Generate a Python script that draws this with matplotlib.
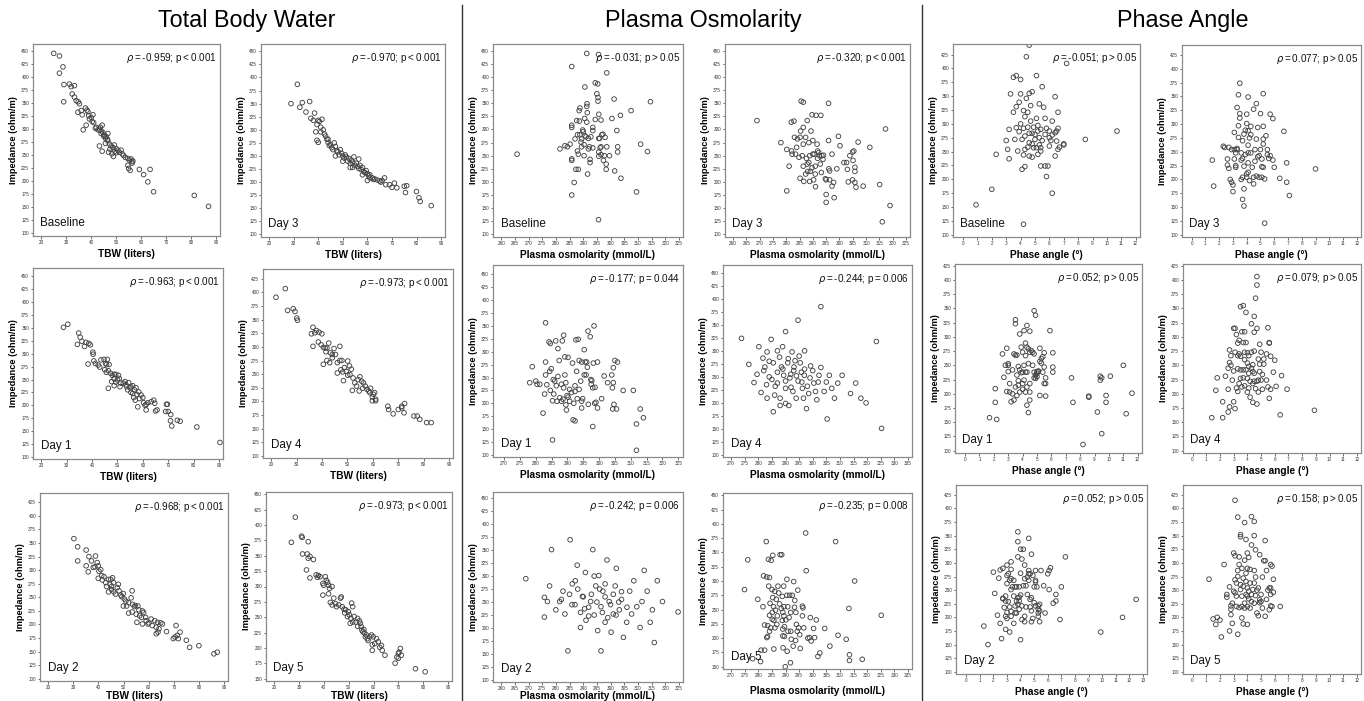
import numpy as np
import matplotlib
matplotlib.use('Agg')
import matplotlib.pyplot as plt

# ====== Data (TBW / Plasma osmolarity / Phase angle vs impedance) ======
tbw_baseline = [(25, 446), (27.3, 441), (27.3, 408), (28.7, 420), (29.1, 386), (29, 353), (31.3, 387), (32, 382),
                (33.3, 384), (32.4, 368), (33.3, 362), (34, 355), (34.8, 353), (35.3, 349), (34.7, 333), (36, 336),
                (36.4, 328), (36.8, 299), (37.7, 341), (38.3, 337), (38.7, 334), (39, 326), (39.3, 320), (38, 308),
                (40, 323), (40.7, 328), (40.4, 315), (41, 313), (41.7, 302), (43.3, 300), (44, 297), (44.4, 308),
                (44.7, 294), (45.3, 289), (46, 286), (46.7, 292), (44, 292), (45, 287), (45.7, 283), (43.3, 268),
                (44.4, 258), (45.7, 273), (46.7, 278), (47.3, 272), (48, 268), (48.7, 265), (49.3, 270), (50, 263),
                (47, 256), (48.3, 253), (48.9, 248), (50, 255), (50.7, 260), (51.3, 256), (52, 260), (52.4, 253),
                (52.9, 250), (53.7, 246), (54.7, 244), (55.3, 241), (56, 243), (56.3, 238), (54.7, 231), (55, 225),
                (55.6, 221), (56.4, 235), (56.7, 239), (59.3, 223), (61, 213), (62.7, 199), (63.6, 223), (65, 180),
                (81.3, 173), (87, 152), (42.7, 299), (42, 304), (43.7, 304), (46.5, 281), (47.5, 262), (49.5, 258)]
tbw_day3 = [(28.9, 350), (31.5, 387), (32.5, 343), (33.5, 352), (35, 334), (36.5, 354), (37, 322), (38, 318),
            (38.5, 332), (39, 296), (39.5, 310), (40, 318), (40.5, 316), (41, 305), (41.5, 320), (39.5, 280),
            (40, 276), (41, 296), (42, 300), (42.5, 292), (43, 288), (43.5, 282), (44, 276), (44.5, 270), (45, 272),
            (45.5, 266), (46, 262), (46.5, 275), (47, 268), (47.5, 260), (48, 258), (48.5, 252), (49, 262),
            (49.5, 255), (50, 250), (50.5, 246), (51, 252), (51.5, 248), (52, 240), (52.5, 245), (53, 236),
            (53.5, 242), (54, 238), (54.5, 248), (55, 232), (55.5, 236), (56, 230), (56.5, 226), (57, 232),
            (57.5, 224), (58, 228), (58.5, 220), (59, 218), (59.5, 222), (60, 216), (60.5, 212), (61, 214),
            (62, 208), (62.5, 205), (63, 206), (64, 204), (65, 202), (65.5, 200), (66, 203), (67, 208), (67.5, 195),
            (69, 195), (70, 190), (71, 198), (72, 189), (75, 192), (75.5, 180), (76, 193), (80, 182), (81, 170),
            (81.5, 163), (86, 155), (56.5, 244), (54, 228), (60, 203), (61, 208), (58, 214), (50, 240), (44, 282),
            (47, 250), (53, 228)]
tbw_day1 = [(28.7, 351), (30.4, 357), (34.7, 340), (35.3, 332), (34.2, 318), (36, 324), (37.6, 322), (37, 314),
            (38.7, 320), (39.3, 317), (40.3, 303), (40.4, 299), (38.4, 280), (40.7, 286), (41.3, 281), (42.4, 278),
            (43, 274), (43.5, 288), (44.7, 289), (45.3, 281), (46, 289), (45.7, 279), (46.7, 279), (45, 269),
            (45.6, 264), (46.4, 267), (47.3, 262), (48, 258), (48.7, 260), (46.4, 233), (47.7, 246), (48.7, 251),
            (49.3, 245), (48.7, 238), (50, 249), (50.7, 252), (51.3, 243), (51, 236), (52.3, 243), (53, 246),
            (53.6, 236), (54.4, 244), (54, 230), (55, 234), (55.3, 225), (56, 238), (56.7, 230), (57.3, 234),
            (57.6, 221), (58.4, 226), (56.4, 215), (57, 210), (58, 197), (58.7, 213), (60, 215), (60.3, 205),
            (60.9, 200), (61.3, 202), (62, 205), (61.3, 191), (63.3, 207), (64.3, 210), (64.7, 204), (65, 189),
            (65.6, 191), (69.3, 202), (69.7, 202), (69, 188), (70, 188), (71, 182), (70.9, 170), (71.4, 160),
            (73.6, 171), (74.7, 169), (81.3, 158), (90.4, 128), (49.3, 260), (50.4, 258), (53.3, 240), (55.3, 236),
            (56, 223), (59.3, 220)]
tbw_day4 = [(21.8, 391), (25.5, 407), (26.4, 367), (28.6, 370), (29.3, 365), (30, 353), (30.3, 349), (36.4, 336),
            (35.8, 324), (37.1, 326), (37.8, 330), (38.8, 327), (39.9, 324), (36.4, 301), (38.5, 309), (39.6, 304),
            (40.5, 299), (41.2, 298), (41.9, 298), (41.5, 291), (42.6, 307), (43.3, 289), (44, 286), (44.7, 297),
            (40.5, 268), (41.9, 275), (43, 271), (44, 280), (45.3, 286), (46, 271), (47, 275), (47, 301),
            (47.8, 275), (46, 252), (47.4, 258), (48.1, 254), (48.8, 262), (49.5, 255), (48.4, 238), (50.1, 274),
            (50.8, 265), (50.1, 248), (51, 249), (51.5, 259), (52.2, 243), (51.9, 220), (52.9, 234), (53.6, 228),
            (54.2, 240), (54.9, 245), (55.6, 237), (56.3, 234), (54.6, 219), (56, 224), (57, 228), (57.7, 222),
            (58.4, 219), (58.8, 216), (59.1, 224), (59.8, 208), (60.2, 213), (60.7, 216), (61.1, 204), (61.1, 201),
            (59.8, 201), (65.9, 191), (66.2, 185), (68, 177), (70, 185), (71.4, 188), (72.5, 196), (72.3, 179),
            (76.2, 173), (77.5, 173), (78.5, 167), (81.2, 161), (83, 161), (71.4, 191)]
tbw_day2 = [(30.2, 358), (31.7, 343), (31.7, 317), (35.1, 337), (35.1, 308), (35.9, 297), (36.2, 325), (37.2, 317),
            (37.9, 305), (38.8, 326), (38.6, 306), (39.5, 314), (39.9, 308), (40.2, 298), (39.9, 285), (40.9, 301),
            (41.3, 290), (41.5, 282), (42.2, 288), (42.9, 277), (43.2, 270), (44, 283), (44.6, 274), (44.9, 283),
            (45.2, 270), (45.6, 286), (46, 277), (44, 260), (45.2, 264), (46.1, 260), (46.8, 256), (47.5, 268),
            (47.9, 274), (48.2, 262), (48.9, 254), (49.3, 251), (49.9, 257), (50.3, 247), (50.9, 243), (49.9, 234),
            (51.2, 234), (52, 240), (53.4, 262), (53, 249), (53.6, 237), (54.3, 233), (54.7, 235), (52, 221),
            (53.4, 223), (55, 219), (55.7, 234), (56.1, 227), (55.3, 204), (56.4, 216), (57.1, 213), (57.5, 225),
            (58, 222), (58.8, 213), (57.5, 201), (59, 207), (59.7, 201), (60.1, 203), (61, 210), (61.4, 198),
            (62.4, 207), (63, 195), (63.5, 204), (64.1, 192), (64.8, 203), (65.5, 201), (63, 183), (63.7, 186),
            (67.1, 187), (70.9, 198), (69.8, 174), (70.5, 177), (71.4, 180), (71.8, 174), (72.5, 186), (75, 171),
            (76.3, 158), (80, 161), (86, 146), (87.3, 149)]
tbw_day5 = [(28.5, 413), (26.9, 372), (31, 382), (31.3, 380), (31.4, 353), (33.7, 373), (33.3, 353), (34.4, 349),
            (33.7, 346), (35.8, 344), (33, 327), (34.4, 314), (36.9, 319), (37.8, 318), (38.5, 316), (37.4, 315),
            (39.6, 305), (39.9, 302), (40.6, 316), (41, 310), (41.5, 307), (41.9, 302), (42.3, 297), (39.6, 286),
            (43.3, 300), (41.9, 288), (42.6, 274), (44, 281), (43.3, 270), (44.7, 272), (45.1, 267), (46, 270),
            (46.7, 281), (47, 283), (47.4, 267), (48.1, 263), (48.4, 257), (48.8, 262), (49.5, 251), (49.8, 259),
            (50.2, 254), (50.9, 248), (51.2, 273), (51.6, 267), (50.6, 240), (51.6, 242), (52.2, 251), (52.9, 242),
            (53.6, 248), (54.3, 244), (54.7, 240), (53.6, 235), (55, 235), (55.3, 229), (55.7, 226), (56.1, 230),
            (56.4, 224), (56.7, 218), (57.1, 221), (57.5, 215), (57.8, 212), (58.5, 218), (59.2, 221), (59.9, 218),
            (59.5, 205), (59.5, 196), (60.5, 207), (61.2, 215), (61.9, 210), (62.5, 201), (63.2, 204), (63.5, 196),
            (64.6, 188), (68.7, 175), (69.4, 185), (70, 191), (70.3, 193), (70.8, 199), (71.2, 188), (70, 183),
            (76.9, 166), (80.8, 161)]

osm_baseline = [(265.8, 253), (281.5, 263), (283.3, 269), (284.2, 267), (285.2, 272), (285.8, 304), (285.8, 308),
                (285.8, 244), (285.8, 241), (285.8, 175), (285.8, 420), (286.7, 199), (287, 282), (287.3, 224),
                (287.6, 317), (287.9, 259), (287.9, 290), (288.2, 224), (288.2, 253), (288.5, 336), (288.6, 316),
                (288.8, 341), (288.8, 290), (289.2, 276), (289.4, 282), (289.4, 267), (289.8, 299), (290, 296),
                (290.3, 250), (290.3, 271), (290.5, 321), (290.6, 381), (290.6, 288), (291, 286), (291.3, 344),
                (291.3, 314), (291.4, 349), (291.5, 332), (291.6, 215), (291.9, 283), (291.9, 263), (292.3, 267),
                (292.5, 237), (292.5, 243), (292.8, 286), (293.5, 304), (293.5, 298), (293.5, 265), (294.4, 319),
                (294.4, 389), (295, 368), (295.3, 387), (295.4, 361), (295.4, 354), (295.7, 329), (295.7, 283),
                (295.7, 257), (295.7, 249), (296, 283), (296.2, 265), (296.5, 318), (296.5, 267), (296.5, 252),
                (296.8, 290), (297.2, 291), (297.4, 241), (297.7, 250), (298, 285), (298.4, 224), (298.4, 234),
                (298.6, 408), (298.6, 267), (299.6, 250), (300.5, 321), (301.3, 358), (301.5, 221), (302.3, 298),
                (302.6, 267), (302.6, 257), (303.6, 327), (303.8, 207), (307.5, 336), (309.5, 181), (311, 272),
                (313.5, 258), (314.6, 353), (295.6, 128), (291.3, 445), (295.6, 443)]
osm_day3 = [(269, 317), (278, 275), (280.2, 262), (281.1, 230), (280.2, 183), (281.9, 314), (282.9, 316), (282, 259),
            (282.2, 253), (283.1, 285), (283.5, 253), (283.9, 266), (284.2, 282), (284.8, 247), (285.2, 285),
            (285.4, 297), (285.2, 207), (285.6, 354), (286, 250), (286.4, 352), (286.4, 304), (286.4, 272),
            (286.4, 230), (286.6, 201), (287.3, 285), (287.3, 215), (287.6, 245), (287.9, 234), (287.9, 317),
            (288.1, 220), (288.5, 275), (288.5, 237), (288.8, 250), (288.8, 201), (289.1, 220), (289.3, 297),
            (289.7, 227), (289.7, 328), (290, 253), (290, 279), (290.3, 204), (290.5, 253), (290.9, 230),
            (290.9, 215), (291, 191), (291.2, 327), (291.6, 272), (291.8, 245), (291.8, 259), (292.2, 256),
            (292.5, 250), (292.8, 234), (293, 327), (293.2, 218), (293.4, 250), (293.8, 243), (294, 251),
            (294.7, 206), (295, 204), (295, 176), (295, 161), (295.9, 350), (296, 225), (295.9, 279), (296.3, 221),
            (296.3, 204), (297.2, 253), (297.2, 192), (297.8, 199), (298, 170), (299, 225), (299.6, 287),
            (300.2, 269), (301.7, 237), (302.7, 237), (303, 224), (303.3, 200), (303.9, 250), (304.9, 257),
            (304.9, 204), (305.1, 241), (305.4, 259), (305.8, 228), (305.8, 220), (305.8, 199), (306.2, 190),
            (307, 276), (308.9, 192), (311.4, 266), (315.1, 195), (316.1, 124), (317.3, 301), (319, 155)]
osm_day1 = [(278.1, 240), (278.9, 271), (280, 243), (280.4, 237), (281.3, 237), (282.3, 181), (282.8, 218),
            (283.1, 356), (283.1, 280), (283.1, 255), (283.5, 236), (284.2, 319), (284.4, 262), (284.6, 225),
            (284.6, 316), (284.9, 267), (285.3, 205), (285.3, 129), (285.5, 246), (285.7, 218), (286, 243),
            (286.3, 321), (286.5, 234), (286.7, 204), (287, 252), (287, 306), (287.4, 283), (287.6, 211),
            (288.1, 237), (288.1, 204), (288.4, 321), (288.6, 208), (288.8, 230), (288.8, 332), (289.2, 290),
            (289.2, 255), (289.5, 240), (289.5, 197), (289.7, 187), (289.9, 215), (290.2, 289), (290.2, 212),
            (290.7, 227), (290.7, 204), (291.3, 221), (291.6, 278), (291.8, 168), (292, 200), (292.4, 234),
            (292.4, 223), (292.4, 166), (292.7, 323), (292.9, 262), (293.1, 209), (293.4, 324), (293.7, 227),
            (293.7, 283), (294.2, 243), (294.5, 204), (294.5, 191), (294.5, 280), (294.8, 209), (295.3, 304),
            (295.3, 255), (295.6, 280), (295.9, 255), (296.1, 280), (296.3, 270), (296.5, 340), (296.6, 198),
            (297.2, 329), (297.4, 246), (297.5, 237), (297.7, 244), (298, 230), (298, 155), (298.2, 278),
            (298.4, 350), (298.6, 200), (298.7, 231), (299, 202), (299.5, 280), (299.5, 191), (300.8, 209),
            (301.6, 253), (302.7, 240), (304, 255), (304.2, 230), (304.3, 189), (304.5, 240), (304.5, 269),
            (304.7, 198), (305, 283), (305.5, 189), (305.8, 280), (307.6, 225), (310.8, 225), (311.8, 160),
            (311.8, 109), (313, 189), (314, 172)]
osm_day4 = [(273.8, 324), (276.5, 274), (278.4, 239), (279.5, 255), (280.2, 308), (281, 220), (281.7, 286),
            (282.4, 269), (283.2, 298), (283.2, 209), (284, 250), (284.7, 322), (285.5, 277), (285.5, 183),
            (286.2, 232), (287, 259), (287.8, 288), (288, 209), (288.9, 308), (289.3, 253), (290, 337), (290, 228),
            (290.8, 277), (291.2, 195), (291.6, 248), (292.4, 298), (292.7, 222), (293.1, 269), (293.9, 209),
            (294.6, 242), (294.6, 359), (295.4, 277), (296.2, 228), (296.9, 253), (297.7, 189), (298.5, 218),
            (299.2, 271), (300.4, 238), (301.5, 206), (302.3, 253), (303, 385), (304.2, 222), (305.3, 169),
            (306.1, 253), (308, 209), (309.2, 238), (310.8, 253), (313.9, 218), (315.8, 238), (317.7, 209),
            (319.6, 200), (323.4, 318), (325.3, 151), (288.5, 269), (291.9, 255), (293.5, 281), (295.8, 259),
            (296.6, 209), (290, 199), (287, 238), (282, 262), (285, 245), (287, 300), (289, 265), (290, 242),
            (291, 285), (292, 230), (293, 262), (294, 252), (295, 290), (296, 240), (297, 265), (298, 232),
            (299, 248), (300, 262), (301, 222), (302, 240), (286, 215), (288, 195), (284, 280), (283, 235),
            (297, 300), (303, 268), (305, 240), (307, 228)]
osm_day2 = [(269, 295), (275.8, 259), (276.9, 251), (277.7, 281), (278.4, 351), (281.4, 251), (282.6, 271),
            (283.3, 227), (285.2, 370), (285.9, 245), (287.1, 291), (287.8, 321), (289, 201), (289.7, 261),
            (290.5, 237), (290.8, 307), (292, 223), (292.7, 251), (293.5, 351), (294.6, 281), (295.3, 195),
            (295.7, 301), (296.5, 241), (297.2, 271), (298, 211), (298.7, 331), (299.5, 251), (300.2, 192),
            (301, 227), (301.7, 281), (302.1, 315), (303.2, 235), (304, 255), (304.7, 182), (305.9, 211),
            (307, 271), (307.7, 227), (308.5, 291), (309.6, 241), (310.8, 201), (311.5, 251), (312.3, 311),
            (313.4, 271), (314.5, 211), (315.3, 235), (316, 172), (317.1, 291), (319, 251), (284.4, 156),
            (275.8, 221), (296.5, 156), (324.7, 231), (285, 265), (287, 245), (288, 275), (289, 230), (290, 260),
            (291, 215), (292, 240), (293, 265), (294, 225), (295, 250), (296, 275), (297, 230), (298, 260),
            (299, 220), (300, 245), (301, 265), (302, 225), (303, 250), (304, 270), (306, 240), (280, 235),
            (282, 255), (286, 285), (294, 300), (298, 285)]
osm_day5 = [(274.9, 285), (276.1, 337), (277.9, 164), (279.8, 268), (280.8, 159), (281, 179), (281.7, 255),
            (281.9, 309), (282.3, 223), (282.3, 179), (282.9, 369), (283.1, 201), (283.1, 307), (283.4, 222),
            (283.4, 203), (283.7, 338), (283.8, 291), (284.1, 212), (284.1, 240), (284.1, 306), (284.3, 261),
            (284.5, 218), (284.7, 336), (285, 285), (285.1, 245), (285.1, 233), (285.3, 345), (285.3, 271),
            (285.6, 255), (285.7, 231), (285.7, 181), (286, 282), (286.1, 218), (286.3, 249), (286.6, 268),
            (286.8, 224), (287, 239), (287.2, 291), (287.5, 279), (287.8, 260), (288, 346), (288.4, 252),
            (288.6, 346), (288.8, 273), (288.8, 231), (289, 245), (289, 216), (289, 204), (289.1, 183),
            (289.3, 291), (289.4, 255), (289.4, 239), (289.6, 220), (289.6, 203), (289.9, 150), (290.1, 232),
            (290.5, 303), (290.5, 275), (290.6, 177), (290.8, 255), (290.9, 212), (291.3, 236), (291.5, 275),
            (291.8, 157), (291.9, 245), (291.9, 212), (292.1, 198), (292.5, 275), (292.8, 186), (293, 299),
            (293.3, 254), (293.4, 266), (293.7, 196), (293.8, 245), (294, 224), (294.3, 212), (294.5, 284),
            (294.8, 218), (295.2, 206), (295.4, 182), (296.2, 256), (296.2, 239), (296.4, 253), (296.7, 218),
            (297.4, 384), (297.6, 318), (298.2, 200), (298.8, 201), (299.1, 236), (299.4, 195), (300.3, 217),
            (300.7, 201), (301.3, 232), (301.9, 168), (302.6, 174), (304.4, 217), (306.3, 186), (308.4, 369),
            (309.3, 205), (312.3, 198), (313.3, 252), (313.5, 171), (313.5, 161), (315.4, 300), (318.2, 163),
            (325.2, 240)]

pa_baseline = [(0.9, 154), (2, 182), (2.3, 245), (3, 270), (3.1, 254), (3.2, 237), (3.2, 290), (3.3, 354),
               (3.5, 321), (3.5, 384), (3.6, 272), (3.7, 387), (3.7, 331), (3.7, 293), (3.8, 251), (3.9, 339),
               (3.9, 286), (4, 300), (4, 354), (4, 380), (4.1, 272), (4.1, 218), (4.2, 324), (4.2, 119), (4.2, 244),
               (4.2, 292), (4.3, 223), (4.3, 313), (4.3, 254), (4.3, 278), (4.4, 421), (4.4, 346), (4.5, 294),
               (4.5, 321), (4.5, 258), (4.6, 442), (4.6, 242), (4.6, 355), (4.6, 266), (4.6, 283), (4.7, 333),
               (4.7, 305), (4.8, 264), (4.8, 358), (4.8, 283), (4.8, 240), (4.9, 257), (4.9, 294), (5, 272),
               (5, 281), (5.1, 387), (5.1, 257), (5.1, 310), (5.2, 287), (5.2, 297), (5.2, 245), (5.3, 336),
               (5.3, 262), (5.3, 275), (5.4, 224), (5.4, 257), (5.4, 290), (5.4, 251), (5.5, 367), (5.5, 270),
               (5.6, 330), (5.7, 281), (5.7, 224), (5.7, 310), (5.8, 205), (5.8, 292), (5.9, 224), (6, 275),
               (6, 260), (6, 287), (6.1, 270), (6.2, 175), (6.2, 280), (6.2, 305), (6.4, 242), (6.4, 284),
               (6.4, 349), (6.5, 269), (6.5, 287), (6.6, 254), (6.6, 321), (6.6, 292), (6.7, 258), (7, 262),
               (7, 264), (7.2, 409), (8.5, 272), (10.7, 287)]
pa_day3 = [(1.5, 235), (1.6, 188), (2.3, 260), (2.4, 258), (2.6, 237), (2.6, 226), (2.7, 258), (2.7, 220), (2.8, 200),
           (2.9, 195), (2.9, 254), (3, 178), (3, 190), (3.1, 254), (3.1, 237), (3.1, 285), (3.2, 225), (3.2, 248),
           (3.2, 222), (3.3, 330), (3.3, 254), (3.3, 256), (3.4, 276), (3.4, 297), (3.4, 353), (3.5, 374),
           (3.5, 311), (3.5, 319), (3.6, 235), (3.6, 248), (3.6, 200), (3.7, 270), (3.7, 164), (3.7, 238),
           (3.7, 204), (3.8, 183), (3.8, 282), (3.8, 224), (3.8, 152), (3.9, 289), (3.9, 245), (4, 318), (4, 204),
           (4, 301), (4, 210), (4.1, 288), (4.1, 248), (4.1, 349), (4.1, 213), (4.1, 262), (4.1, 230), (4.2, 275),
           (4.2, 198), (4.3, 296), (4.3, 248), (4.3, 281), (4.4, 222), (4.5, 327), (4.5, 204), (4.5, 192),
           (4.6, 254), (4.6, 233), (4.7, 337), (4.7, 206), (4.7, 273), (4.8, 294), (4.8, 241), (4.9, 204),
           (4.9, 243), (5, 319), (5, 254), (5.1, 204), (5.1, 237), (5.1, 223), (5.2, 222), (5.2, 296), (5.2, 355),
           (5.2, 273), (5.2, 264), (5.3, 121), (5.3, 201), (5.4, 279), (5.5, 254), (5.5, 245), (5.6, 238),
           (5.7, 318), (5.7, 243), (5.9, 310), (5.9, 235), (6, 222), (6.4, 202), (6.7, 287), (6.9, 195), (6.9, 230),
           (7.1, 171), (9, 219)]
pa_day1 = [(1.7, 158), (2.1, 209), (2.1, 185), (2.2, 155), (2.6, 270), (2.7, 229), (2.8, 250), (2.9, 204), (2.9, 280),
           (3, 250), (3, 253), (3, 239), (3.1, 218), (3.1, 203), (3.2, 186), (3.3, 200), (3.3, 242), (3.4, 270),
           (3.4, 189), (3.5, 330), (3.5, 323), (3.5, 268), (3.5, 212), (3.6, 197), (3.6, 233), (3.6, 268),
           (3.7, 223), (3.7, 248), (3.7, 215), (3.8, 305), (3.8, 242), (3.8, 203), (3.9, 282), (3.9, 237),
           (4, 208), (4, 218), (4, 273), (4, 238), (4.1, 311), (4.1, 250), (4.1, 224), (4.2, 267), (4.2, 203),
           (4.2, 238), (4.2, 289), (4.3, 282), (4.3, 212), (4.3, 320), (4.3, 238), (4.3, 180), (4.4, 279),
           (4.4, 253), (4.4, 167), (4.5, 203), (4.5, 273), (4.5, 310), (4.5, 218), (4.5, 189), (4.6, 276),
           (4.7, 250), (4.7, 273), (4.8, 238), (4.8, 346), (4.8, 228), (4.8, 270), (4.9, 233), (4.9, 338),
           (4.9, 227), (5, 239), (5, 230), (5, 236), (5.1, 239), (5.1, 240), (5.2, 280), (5.2, 257), (5.2, 197),
           (5.3, 254), (5.3, 262), (5.4, 238), (5.4, 265), (5.5, 247), (5.5, 218), (5.5, 272), (5.6, 228),
           (5.6, 218), (5.6, 196), (5.9, 311), (6.1, 247), (6.1, 272), (6.1, 238), (7.4, 228), (7.5, 185),
           (8.2, 111), (8.6, 194), (8.6, 196), (9.2, 168), (9.4, 231), (9.4, 224), (9.5, 228), (9.5, 130),
           (9.8, 197), (9.8, 185), (10.1, 231), (11, 250), (11.2, 165), (11.6, 201)]
pa_day4 = [(1.4, 158), (1.7, 206), (1.8, 228), (2.2, 186), (2.2, 158), (2.4, 231), (2.6, 245), (2.6, 208), (2.6, 168),
           (2.7, 277), (2.7, 177), (2.7, 255), (2.8, 250), (2.8, 267), (2.9, 224), (3, 315), (3, 186), (3, 240),
           (3.1, 174), (3.1, 273), (3.1, 315), (3.2, 304), (3.2, 210), (3.3, 289), (3.3, 204), (3.3, 244),
           (3.3, 267), (3.4, 270), (3.4, 218), (3.4, 294), (3.5, 242), (3.5, 353), (3.5, 266), (3.5, 227),
           (3.6, 309), (3.6, 212), (3.7, 290), (3.7, 242), (3.7, 355), (3.7, 228), (3.8, 273), (3.8, 309),
           (3.8, 260), (3.8, 214), (3.9, 242), (3.9, 290), (3.9, 343), (4, 254), (4, 227), (4, 203), (4, 272),
           (4.1, 236), (4.1, 210), (4.1, 248), (4.1, 267), (4.2, 194), (4.2, 222), (4.3, 245), (4.3, 323),
           (4.3, 273), (4.4, 218), (4.4, 239), (4.4, 251), (4.4, 185), (4.5, 336), (4.5, 308), (4.5, 236),
           (4.5, 275), (4.5, 222), (4.6, 209), (4.6, 368), (4.7, 182), (4.7, 391), (4.7, 406), (4.7, 222),
           (4.7, 315), (4.8, 261), (4.8, 203), (4.8, 224), (4.9, 252), (4.9, 287), (4.9, 239), (5, 224), (5, 273),
           (5.1, 208), (5.1, 234), (5.2, 252), (5.2, 261), (5.4, 270), (5.4, 224), (5.5, 212), (5.5, 316),
           (5.6, 289), (5.6, 192), (5.6, 290), (5.7, 266), (5.7, 208), (5.9, 238), (6, 259), (6.1, 213),
           (6.4, 163), (6.5, 232), (6.9, 208), (8.9, 171)]
pa_day2 = [(1.3, 184), (1.6, 150), (2, 283), (2.1, 244), (2.3, 204), (2.4, 272), (2.5, 287), (2.5, 189), (2.6, 161),
           (2.7, 290), (2.7, 234), (2.7, 235), (2.8, 218), (2.9, 202), (2.9, 230), (2.9, 239), (2.9, 178),
           (3, 262), (3, 209), (3, 296), (3, 277), (3, 198), (3.1, 280), (3.1, 229), (3.2, 268), (3.2, 219),
           (3.2, 173), (3.3, 251), (3.3, 302), (3.3, 288), (3.3, 211), (3.3, 202), (3.3, 271), (3.4, 256),
           (3.5, 189), (3.5, 268), (3.5, 239), (3.6, 256), (3.6, 221), (3.6, 208), (3.7, 230), (3.7, 256),
           (3.7, 208), (3.8, 224), (3.8, 236), (3.8, 339), (3.8, 311), (3.8, 357), (3.9, 237), (3.9, 230),
           (3.9, 256), (3.9, 215), (4, 281), (4, 159), (4, 241), (4, 325), (4.1, 196), (4.1, 307), (4.1, 221),
           (4.2, 325), (4.2, 258), (4.3, 271), (4.3, 202), (4.3, 296), (4.3, 192), (4.4, 219), (4.4, 258),
           (4.5, 242), (4.5, 274), (4.6, 268), (4.6, 345), (4.6, 286), (4.6, 280), (4.7, 233), (4.7, 280),
           (4.7, 219), (4.8, 316), (4.8, 212), (4.8, 236), (4.8, 192), (4.9, 277), (4.9, 198), (5, 227), (5, 256),
           (5.1, 265), (5.1, 286), (5.1, 221), (5.1, 268), (5.2, 256), (5.3, 215), (5.3, 221), (5.3, 208),
           (5.3, 202), (5.4, 192), (5.4, 212), (5.4, 224), (5.5, 286), (5.7, 258), (5.8, 208), (6, 280),
           (6.1, 286), (6.1, 251), (6.2, 291), (6.4, 226), (6.6, 242), (6.6, 230), (6.9, 196), (7, 256),
           (7.3, 311), (9.9, 173), (11.5, 200), (12.5, 233)]
pa_day5 = [(1.5, 197), (1.7, 187), (1.8, 200), (2, 195), (2.1, 164), (2.3, 297), (2.5, 242), (2.5, 237), (2.7, 256),
           (2.7, 175), (2.8, 205), (2.8, 221), (2.8, 215), (2.9, 226), (2.9, 189), (3, 248), (3, 318), (3.1, 313),
           (3.1, 269), (3.1, 415), (3.1, 245), (3.2, 239), (3.2, 220), (3.2, 263), (3.3, 286), (3.3, 169),
           (3.3, 384), (3.3, 275), (3.4, 311), (3.4, 218), (3.4, 297), (3.5, 251), (3.5, 348), (3.5, 260),
           (3.5, 352), (3.6, 290), (3.6, 199), (3.6, 239), (3.6, 220), (3.7, 188), (3.7, 257), (3.7, 272),
           (3.8, 374), (3.8, 217), (3.8, 305), (3.8, 226), (3.9, 281), (3.9, 242), (3.9, 266), (3.9, 343),
           (4, 187), (4, 290), (4, 239), (4, 254), (4, 318), (4, 220), (4.1, 248), (4.1, 310), (4.1, 234),
           (4.2, 263), (4.2, 288), (4.2, 217), (4.3, 333), (4.3, 242), (4.3, 229), (4.3, 385), (4.4, 251),
           (4.5, 376), (4.5, 286), (4.5, 350), (4.5, 263), (4.5, 226), (4.6, 240), (4.6, 324), (4.6, 274),
           (4.7, 250), (4.7, 208), (4.8, 254), (4.8, 203), (4.9, 227), (4.9, 315), (4.9, 232), (5, 229), (5, 242),
           (5.1, 274), (5.1, 217), (5.2, 304), (5.3, 202), (5.3, 304), (5.3, 341), (5.4, 233), (5.4, 286),
           (5.5, 250), (5.6, 214), (5.6, 254), (5.7, 242), (5.7, 297), (5.7, 221), (5.8, 294), (5.8, 220),
           (5.9, 270), (5.9, 246), (6.4, 220), (5.7, 254), (1.2, 270)]

rho_text = {
    'tbw_baseline': ('-0.959', '<', '0.001'), 'tbw_day3': ('-0.970', '<', '0.001'),
    'tbw_day1': ('-0.963', '<', '0.001'), 'tbw_day4': ('-0.973', '<', '0.001'),
    'tbw_day2': ('-0.968', '<', '0.001'), 'tbw_day5': ('-0.973', '<', '0.001'),
    'osm_baseline': ('-0.031', '>', '0.05'), 'osm_day3': ('-0.320', '<', '0.001'),
    'osm_day1': ('-0.177', '=', '0.044'), 'osm_day4': ('-0.244', '=', '0.006'),
    'osm_day2': ('-0.242', '=', '0.006'), 'osm_day5': ('-0.235', '=', '0.008'),
    'pa_baseline': ('-0.051', '>', '0.05'), 'pa_day3': ('0.077', '>', '0.05'),
    'pa_day1': ('0.052', '>', '0.05'), 'pa_day4': ('0.079', '>', '0.05'),
    'pa_day2': ('0.052', '>', '0.05'), 'pa_day5': ('0.158', '>', '0.05'),
}

# ====== Layout (pixel boxes: left, top, right, bottom) ======
W, H = 1364, 701
tbw_ticks = np.arange(20, 91, 10)
panels = [
    # data, name, label, box, xticks, xlim, yticks, ylim, xlabel, labelpad
    (tbw_baseline, 'tbw_baseline', 'Baseline', (33, 44, 220, 236), tbw_ticks, (16.7, 91.6), (100, 450), (95, 464), 'TBW (liters)', 3),
    (tbw_day3, 'tbw_day3', 'Day 3', (261, 44, 445, 237), tbw_ticks, (16.7, 91.6), (100, 450), (95, 464), 'TBW (liters)', 3),
    (tbw_day1, 'tbw_day1', 'Day 1', (33, 268, 223, 459), tbw_ticks, (16.7, 91.6), (100, 450), (96, 466), 'TBW (liters)', 3),
    (tbw_day4, 'tbw_day4', 'Day 4', (263, 269, 453, 458), tbw_ticks, (16.7, 91.6), (100, 425), (96, 443), 'TBW (liters)', 3),
    (tbw_day2, 'tbw_day2', 'Day 2', (40, 493, 228, 681), tbw_ticks, (16.7, 91.6), (100, 425), (96, 442), 'TBW (liters)', 0.5),
    (tbw_day5, 'tbw_day5', 'Day 5', (266, 492, 452, 681), tbw_ticks, (16.7, 91.6), (150, 450), (146, 454), 'TBW (liters)', 0.5),
    (osm_baseline, 'osm_baseline', 'Baseline', (493, 44, 683, 237), np.arange(260, 326, 5), (257, 326.5), (100, 450), (95, 463), 'Plasma osmolarity (mmol/L)', 3),
    (osm_day3, 'osm_day3', 'Day 3', (725, 44, 910, 237), np.arange(260, 326, 5), (257, 326.5), (100, 450), (95, 463), 'Plasma osmolarity (mmol/L)', 3),
    (osm_day1, 'osm_day1', 'Day 1', (493, 265, 683, 457), np.arange(270, 326, 5), (266.5, 326.5), (100, 450), (96, 468), 'Plasma osmolarity (mmol/L)', 3),
    (osm_day4, 'osm_day4', 'Day 4', (723, 265, 912, 457), np.arange(270, 336, 5), (267, 336.5), (100, 450), (96, 465), 'Plasma osmolarity (mmol/L)', 3),
    (osm_day2, 'osm_day2', 'Day 2', (493, 492, 683, 682), np.arange(260, 326, 5), (257, 326.5), (100, 450), (96, 462), 'Plasma osmolarity (mmol/L)', 0.3),
    (osm_day5, 'osm_day5', 'Day 5', (723, 493, 912, 669), np.arange(270, 336, 5), (267, 336.5), (150, 450), (146, 454), 'Plasma osmolarity (mmol/L)', 6),
    (pa_baseline, 'pa_baseline', 'Baseline', (953, 44, 1140, 237), np.arange(0, 13), (-0.7, 12.3), (100, 425), (96, 444), 'Phase angle (°)', 3),
    (pa_day3, 'pa_day3', 'Day 3', (1182, 45, 1361, 237), np.arange(0, 13), (-0.7, 12.3), (100, 425), (96, 443), 'Phase angle (°)', 3),
    (pa_day1, 'pa_day1', 'Day 1', (955, 264, 1142, 453), np.arange(0, 13), (-0.7, 12.3), (100, 425), (96, 428), 'Phase angle (°)', 3),
    (pa_day4, 'pa_day4', 'Day 4', (1183, 264, 1361, 453), np.arange(0, 13), (-0.7, 12.3), (100, 425), (96, 428), 'Phase angle (°)', 3),
    (pa_day2, 'pa_day2', 'Day 2', (956, 485, 1147, 674), np.arange(0, 14), (-0.75, 13.3), (100, 425), (96, 443), 'Phase angle (°)', 3),
    (pa_day5, 'pa_day5', 'Day 5', (1183, 485, 1361, 674), np.arange(0, 13), (-0.7, 12.3), (100, 425), (96, 443), 'Phase angle (°)', 3),
]

sans = ['Liberation Sans', 'DejaVu Sans']
plt.rcParams['font.family'] = sans

fig = plt.figure(figsize=(W / 100, H / 100), dpi=100)
fig.patch.set_facecolor('white')
thin = '\u2009'

for pts, name, label, box, xticks, xlim, yrange, ylim, xlabel, xpad in panels:
    l, t, r, b = box
    ax = fig.add_axes([l / W, 1 - b / H, (r - l) / W, (b - t) / H])
    pts = np.array(pts)
    ax.scatter(pts[:, 0], pts[:, 1], s=11, facecolors='none', edgecolors='#444444', linewidths=0.65)
    ax.set_xlim(*xlim)
    ax.set_ylim(*ylim)
    ax.set_xticks(xticks)
    ax.set_yticks(np.arange(yrange[0], yrange[1] + 1, 25))
    ax.tick_params(labelsize=3.3, length=1.8, width=0.5, pad=1, colors='#333333')
    for s in ax.spines.values():
        s.set_color('#8a8a8a')
        s.set_linewidth(0.9)
    ax.set_ylabel('Impedance (ohm/m)', fontsize=6.7, fontweight='bold', labelpad=2)
    ax.set_xlabel(xlabel, fontsize=7.3, fontweight='bold', labelpad=xpad)
    r_val, op, p_val = rho_text[name]
    ann = r'$\rho$' + thin + '=' + thin + r_val + '; p' + thin + op + thin + p_val
    ax.text(0.985, 0.925, ann, transform=ax.transAxes, ha='right', va='center',
            fontsize=7.1, color='#111111')
    ax.text(0.04, 0.035, label, transform=ax.transAxes, ha='left', va='bottom', fontsize=8.4, color='#111111')

# group titles and separators
fig.text(247 / W, 1 - 21 / H, 'Total Body Water', ha='center', va='center', fontsize=16.8)
fig.text(703 / W, 1 - 21 / H, 'Plasma Osmolarity', ha='center', va='center', fontsize=16.8)
fig.text(1183 / W, 1 - 21 / H, 'Phase Angle', ha='center', va='center', fontsize=16.8)
for xp in (462, 922):
    fig.add_artist(plt.Line2D([xp / W, xp / W], [0, 1 - 5 / H], color='#333333', linewidth=1.0))

fig.savefig('out.png', dpi=100)
